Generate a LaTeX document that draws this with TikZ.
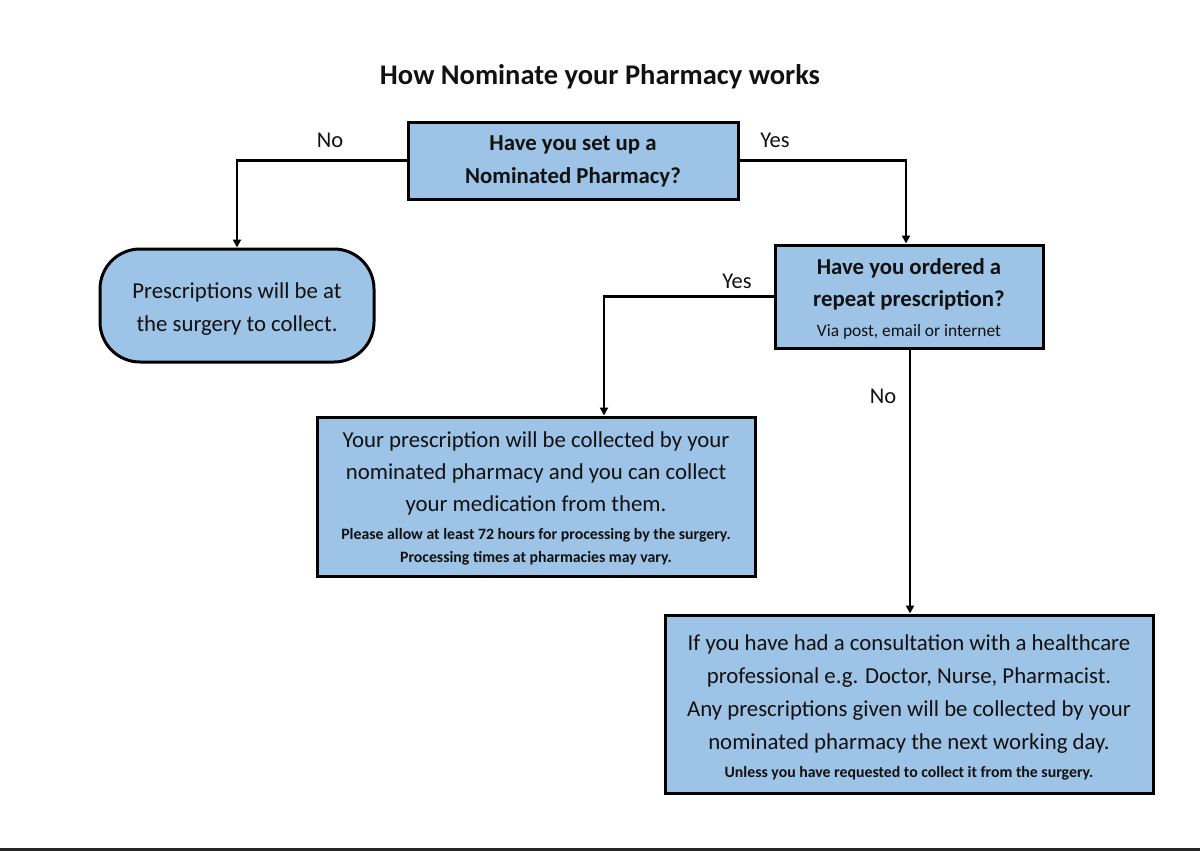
\documentclass[tikz,border=0pt]{standalone}
\usepackage{fontspec}
\setmainfont{Carlito}
\usetikzlibrary{arrows.meta}
\definecolor{boxblue}{HTML}{9DC3E6}
\definecolor{ink}{HTML}{111111}
\begin{document}
\begin{tikzpicture}[x=1pt,y=-1pt,
  box/.style={draw=black,line width=3pt,fill=boxblue,inner sep=0pt,align=center,text=ink,
    font=\fontsize{22.8}{33}\selectfont,text depth=0pt},
  conn/.style={draw=black,line width=2.2pt,-{Triangle[length=8pt,width=8pt]}},
  lbl/.style={font=\fontsize{22.5}{26}\selectfont,text=ink,inner sep=0pt}]
\useasboundingbox (0,0) rectangle (1200,851);
\node[font=\bfseries\fontsize{28.5}{32}\selectfont,text=ink] (title) at (600,76.5) {How Nominate your Pharmacy works};

\node[box,minimum width=330,minimum height=77,text height=45.6pt] (q1) at (573,160.5)
  {\textbf{Have you set up a}\\\textbf{Nominated Pharmacy?}};
\node[box,rounded corners=40pt,minimum width=274,minimum height=113,text height=52.4pt] (b2) at (237,305.5)
  {Prescriptions will be at\\the surgery to collect.};
\node[box,minimum width=268,minimum height=103,text height=79pt] (q2) at (909,296.5)
  {\textbf{Have you ordered a}\\[-1pt]\textbf{repeat prescription?}\\[-3pt]{\fontsize{17.4}{20}\selectfont Via post, email or internet}};
\node[box,minimum width=438,minimum height=159,text height=132.4pt] (r4) at (536,496.5)
  {Your prescription will be collected by your\\[-1pt]nominated pharmacy and you can collect\\[-1pt]your medication from them.\\[-5pt]{\bfseries\fontsize{15.8}{18}\selectfont Please allow at least 72 hours for processing by the surgery.}\\[-9.6pt]{\bfseries\fontsize{15.8}{18}\selectfont Processing times at pharmacies may vary.}};
\node[box,minimum width=488,minimum height=178,text height=147.4pt] (r5) at (909,704)
  {If you have had a consultation with a healthcare\\professional e.g. Doctor, Nurse, Pharmacist.\\Any prescriptions given will be collected by your\\nominated pharmacy the next working day.\\[-5pt]{\bfseries\fontsize{15.8}{18}\selectfont Unless you have requested to collect it from the surgery.}};

\draw[conn] (q1.west) -| (b2.north);
\draw[conn] (q1.east) -| ([xshift=-3pt]q2.north);
\draw[conn] (q2.west) -| ([xshift=68pt]r4.north);
\draw[conn] ([xshift=1pt]q2.south) -- ([xshift=1pt]r5.north);

\node[lbl] (lno1) at (330,140) {No};
\node[lbl] (lyes1) at (775,140) {Yes};
\node[lbl] (lyes2) at (737,281) {Yes};
\node[lbl] (lno2) at (883,396) {No};

\draw[line width=3pt,draw=black!85] (0,849) -- (1200,849);
\end{tikzpicture}
\end{document}
